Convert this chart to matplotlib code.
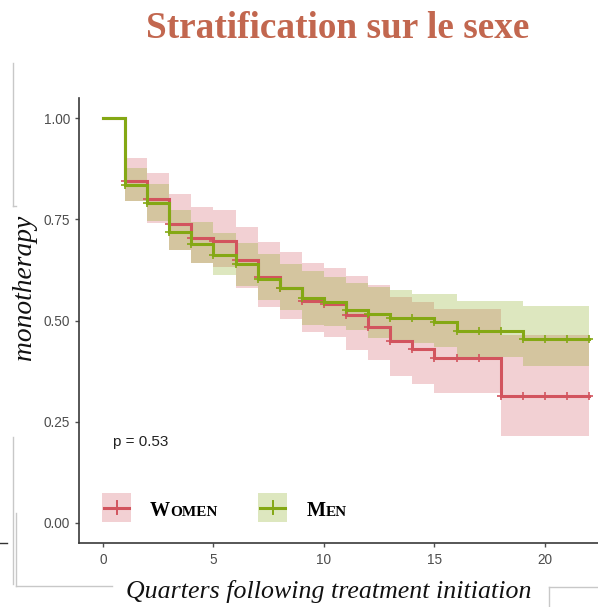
import numpy as np
import matplotlib.pyplot as plt
from matplotlib.lines import Line2D
from matplotlib.patches import Rectangle

# Kaplan-Meier estimates per quarter (value on [t, t+1))
quarters = np.arange(0, 22)
women_surv = [1.0, 0.845, 0.80, 0.738, 0.703, 0.697, 0.65, 0.607, 0.58, 0.549, 0.54,
              0.514, 0.485, 0.45, 0.43, 0.408, 0.408, 0.408, 0.313, 0.313, 0.313, 0.313]
women_upper = [1.0, 0.902, 0.865, 0.812, 0.78, 0.773, 0.732, 0.694, 0.669, 0.642, 0.63,
               0.61, 0.588, 0.559, 0.545, 0.528, 0.528, 0.528, 0.464, 0.464, 0.464, 0.464]
women_lower = [1.0, 0.796, 0.742, 0.674, 0.642, 0.633, 0.58, 0.533, 0.504, 0.472, 0.46,
               0.427, 0.402, 0.364, 0.343, 0.321, 0.321, 0.321, 0.215, 0.215, 0.215, 0.215]
men_surv = [1.0, 0.835, 0.79, 0.72, 0.69, 0.662, 0.64, 0.602, 0.58, 0.555, 0.545,
            0.526, 0.516, 0.506, 0.506, 0.496, 0.474, 0.474, 0.474, 0.455, 0.455, 0.455]
men_upper = [1.0, 0.876, 0.837, 0.773, 0.744, 0.716, 0.692, 0.664, 0.64, 0.622, 0.608,
             0.592, 0.583, 0.575, 0.565, 0.565, 0.548, 0.548, 0.548, 0.537, 0.537, 0.537]
men_lower = [1.0, 0.796, 0.745, 0.674, 0.642, 0.612, 0.585, 0.551, 0.526, 0.489, 0.487,
             0.476, 0.457, 0.45, 0.444, 0.435, 0.41, 0.41, 0.41, 0.388, 0.388, 0.388]
censor_times = np.arange(1, 23)
x_ticks = [0, 5, 10, 15, 20]
y_ticks = [0.0, 0.25, 0.5, 0.75, 1.0]
p_value = 0.53

RED = "#D2545E"
GREEN = "#84A814"
W, H = 598, 607

fig = plt.figure(figsize=(W / 100, H / 100), dpi=100)


def fx(px):
    return px / W


def fy(py):
    return 1 - py / H


ax = fig.add_axes([fx(79), fy(543), fx(598) - fx(79), fy(98) - fy(543)])
ax.set_xlim(-1.086, 22.4)
ax.set_ylim(-0.05, 1.05)


def draw_curve(surv, lo, hi, color):
    t = np.append(quarters, 22)
    s = np.append(surv, surv[-1])
    ax.fill_between(t[1:], np.append(lo, lo[-1])[1:], np.append(hi, hi[-1])[1:],
                    step="post", color=color, alpha=0.27, lw=0)
    ax.step(t, s, where="post", color=color, lw=2.2, solid_joinstyle="miter")
    cens = [s[int(c)] for c in censor_times]
    ax.plot(censor_times, cens, ls="none", marker="+", ms=6, mew=1.2, color=color)


draw_curve(women_surv, women_lower, women_upper, RED)
draw_curve(men_surv, men_lower, men_upper, GREEN)

for side in ("top", "right"):
    ax.spines[side].set_visible(False)
for side in ("left", "bottom"):
    ax.spines[side].set_color("#3a3a3a")
    ax.spines[side].set_linewidth(1.2)
ax.set_xticks(x_ticks)
ax.set_yticks(y_ticks)
ax.set_yticklabels([f"{v:.2f}" for v in y_ticks])
ax.tick_params(colors="#4d4d4d", labelsize=9.8, length=3, width=1,
               labelfontfamily="Liberation Sans")
ax.tick_params(axis="x", pad=4)

ax.text(0.45, 0.2, f"p = {p_value}", fontsize=11, family="Liberation Sans",
        color="#222222", va="center", ha="left")

# legend keys
for x0, color in ((102, RED), (258, GREEN)):
    fig.add_artist(Rectangle((fx(x0), fy(522)), fx(29), fy(493) - fy(522),
                             color=color, alpha=0.27, lw=0))
    fig.add_artist(Line2D([fx(x0 + 2), fx(x0 + 27)], [fy(508), fy(508)], color=color, lw=2.2))
    fig.add_artist(Line2D([fx(x0 + 14.5), fx(x0 + 14.5)], [fy(501), fy(514)], color=color, lw=1.4))

# small-caps legend labels
for x0, first, rest in ((150, "W", "OMEN"), (307, "M", "EN")):
    t1 = fig.text(fx(x0), fy(516), first, family="Liberation Serif", weight="bold",
                  fontsize=14.5, va="baseline", ha="left")
    fig.canvas.draw()
    bb = t1.get_window_extent()
    fig.text(bb.x1 / W, fy(516), rest, family="Liberation Serif", weight="bold",
             fontsize=11, va="baseline", ha="left")

fig.text(fx(338), fy(38), "Stratification sur le sexe", family="Liberation Serif",
         weight="bold", fontsize=26.8, color="#C2674F", ha="center", va="baseline")
fig.text(fx(329), fy(598), "Quarters following treatment initiation", family="Liberation Serif",
         style="italic", fontsize=18.6, color="#111111", ha="center", va="baseline")
fig.text(fx(25), fy(287), "monotherapy", family="Liberation Serif", style="italic",
         fontsize=19.8, color="#111111", ha="center", va="center", rotation=90)

# frame edges of the surrounding slide
gray = "#c8c8c8"
for xs, ys, c in (((13, 13), (63, 206), gray), ((13, 16), (206, 206), gray),
                  ((13, 13), (437, 584), gray), ((16, 16), (513, 586), gray),
                  ((16, 112), (586, 586), gray), ((549, 549), (587, 607), gray),
                  ((549, 598), (587, 587), gray), ((0, 7), (543, 543), "#333333")):
    fig.add_artist(Line2D([fx(xs[0]), fx(xs[1])], [fy(ys[0]), fy(ys[1])], color=c, lw=1))

fig.savefig("out.png", dpi=100)
